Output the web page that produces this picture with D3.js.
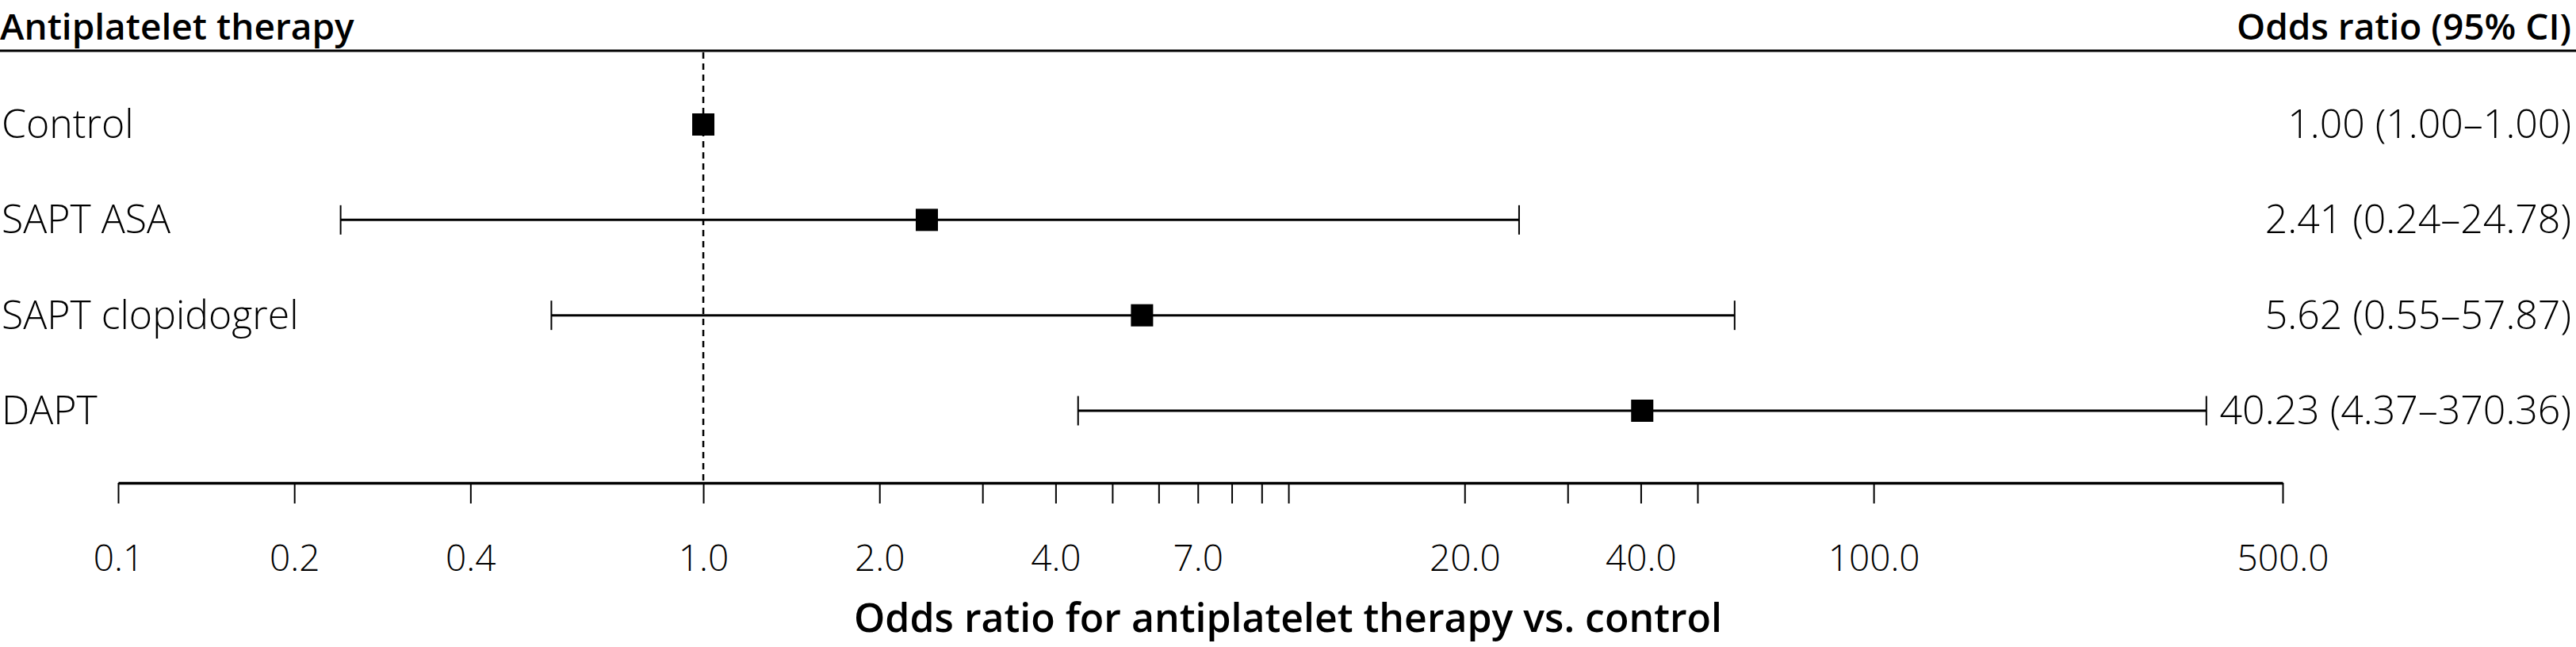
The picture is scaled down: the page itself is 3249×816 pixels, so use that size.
<!DOCTYPE html>
<html>
<head>
<meta charset="utf-8">
<script src="https://cdn.jsdelivr.net/npm/d3@7"></script>
<style>
  html, body { margin: 0; padding: 0; background: #fff; }
  svg { display: block; font-family: "Open Sans", "Noto Sans", sans-serif; }
</style>
</head>
<body>
<svg id="chart" width="3249" height="816"></svg>
<script>
// ---- data ----
const categories = ["Control", "SAPT ASA", "SAPT clopidogrel", "DAPT"];
const oddsRatio  = [1.00, 2.41, 5.62, 40.23];
const ciLower    = [1.00, 0.24, 0.55, 4.37];
const ciUpper    = [1.00, 24.78, 57.87, 370.36];
const tickValues = [0.1, 0.2, 0.4, 1, 2, 3, 4, 5, 6, 7, 8, 9, 10, 20, 30, 40, 50, 100, 500];
const labelledTicks = [0.1, 0.2, 0.4, 1, 2, 4, 7, 20, 40, 100, 500];
const headerLeft = "Antiplatelet therapy";
const headerRight = "Odds ratio (95% CI)";
const axisTitle = "Odds ratio for antiplatelet therapy vs. control";

const rows = categories.map((c, i) => ({
  name: c, or: oddsRatio[i], lo: ciLower[i], hi: ciUpper[i]
}));

// ---- layout ----
const W = 3249, H = 816;
const axisY = 609;
const svg = d3.select("#chart");

const x = d3.scaleLog().domain([0.1, 500]).range([149, 2879]);
const y = d3.scalePoint().domain(categories).range([157, 518]);

// header
svg.append("text").attr("x", 0).attr("y", 50)
  .attr("font-size", 46).attr("font-weight", 600)
  .text(headerLeft);
svg.append("text").attr("x", 3243).attr("y", 50)
  .attr("text-anchor", "end")
  .attr("font-size", 46).attr("font-weight", 600)
  .text(headerRight);
svg.append("line").attr("x1", 0).attr("x2", W).attr("y1", 64).attr("y2", 64)
  .attr("stroke", "#000").attr("stroke-width", 3);

// reference line at OR = 1
svg.append("line")
  .attr("x1", x(1)).attr("x2", x(1))
  .attr("y1", 66).attr("y2", axisY)
  .attr("stroke", "#000").attr("stroke-width", 2.5)
  .attr("stroke-dasharray", "8,6");

// axis
const axis = d3.axisBottom(x)
  .tickValues(tickValues)
  .tickSize(26)
  .tickSizeOuter(0)
  .tickFormat(d => labelledTicks.includes(d) ? d3.format(".1f")(d) : "");
const gAxis = svg.append("g").attr("transform", `translate(0,${axisY})`).call(axis);
gAxis.select(".domain").attr("stroke", "#000").attr("stroke-width", 3.5);
gAxis.selectAll(".tick line").attr("stroke", "#000").attr("stroke-width", 2);
gAxis.selectAll(".tick text")
  .attr("y", 111).attr("dy", 0)
  .attr("font-size", 46).attr("font-weight", 300)
  .attr("font-family", "'Open Sans', sans-serif")
  .attr("fill", "#000");

// axis title
svg.append("text").attr("x", W / 2).attr("y", 797)
  .attr("text-anchor", "middle")
  .attr("font-size", 50).attr("font-weight", 600)
  .text(axisTitle);

// rows
const g = svg.append("g");
const ci = rows.filter(d => d.lo !== d.hi);
g.selectAll("line.ci").data(ci).join("line").attr("class", "ci")
  .attr("x1", d => x(d.lo)).attr("x2", d => x(d.hi))
  .attr("y1", d => y(d.name)).attr("y2", d => y(d.name))
  .attr("stroke", "#000").attr("stroke-width", 3);
g.selectAll("line.capL").data(ci).join("line").attr("class", "capL")
  .attr("x1", d => x(d.lo)).attr("x2", d => x(d.lo))
  .attr("y1", d => y(d.name) - 18.5).attr("y2", d => y(d.name) + 18.5)
  .attr("stroke", "#000").attr("stroke-width", 2);
g.selectAll("line.capR").data(ci).join("line").attr("class", "capR")
  .attr("x1", d => x(d.hi)).attr("x2", d => x(d.hi))
  .attr("y1", d => y(d.name) - 18.5).attr("y2", d => y(d.name) + 18.5)
  .attr("stroke", "#000").attr("stroke-width", 2);
const sq = 28;
g.selectAll("rect.pt").data(rows).join("rect").attr("class", "pt")
  .attr("x", d => x(d.or) - sq / 2).attr("y", d => y(d.name) - sq / 2)
  .attr("width", sq).attr("height", sq).attr("fill", "#000");

// left labels
g.selectAll("text.lab").data(rows).join("text").attr("class", "lab")
  .attr("x", 2).attr("y", d => y(d.name) + 17)
  .attr("font-size", 50).attr("font-weight", 300)
  .text(d => d.name);

// right labels
const f2 = d3.format(".2f");
g.selectAll("text.val").data(rows).join("text").attr("class", "val")
  .attr("x", 3243).attr("y", d => y(d.name) + 17)
  .attr("text-anchor", "end")
  .attr("font-size", 50).attr("font-weight", 300)
  .text(d => `${f2(d.or)} (${f2(d.lo)}–${f2(d.hi)})`);
</script>
</body>
</html>
